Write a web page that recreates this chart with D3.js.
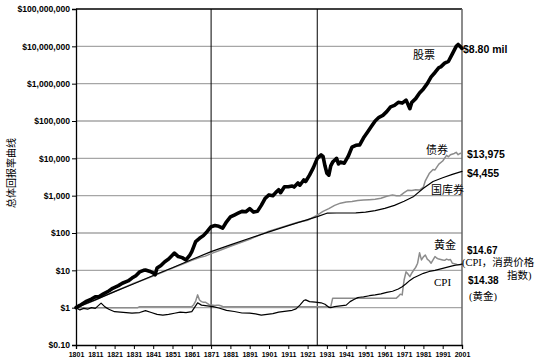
<!DOCTYPE html>
<html><head><meta charset="utf-8">
<script src="https://cdn.jsdelivr.net/npm/d3@7"></script>
<style>body{margin:0;background:#fff}svg{display:block}</style>
</head><body>
<svg id="c" width="541" height="364"></svg>
<script>
// ---- data ----
const yTickValues = [1e8, 1e7, 1e6, 1e5, 1e4, 1e3, 100, 10, 1, 0.1];
const yTickLabels = ["$100,000,000","$10,000,000","$1,000,000","$100,000","$10,000","$1,000","$100","$10","$1","$0.10"];
const xTickYears = [1801,1811,1821,1831,1841,1851,1861,1871,1881,1891,1901,1911,1921,1931,1941,1951,1961,1971,1981,1991,2001];
const markerYears = [1871, 1926];

const stockYears = [1801,1803,1806,1809,1811,1813,1815,1818,1820,1823,1825,1828,1830,1832,1834,1836,1837,1839,1841,1842,1843,1845,1847,1849,1852,1854,1856,1858,1860,1861,1863,1865,1867,1869,1871,1873,1875,1877,1879,1881,1883,1885,1887,1889,1891,1893,1895,1897,1899,1901,1903,1905,1906,1907,1909,1911,1913,1914,1916,1917,1919,1920,1922,1924,1926,1928,1929,1930,1931,1932,1933,1934,1935,1936,1937,1938,1940,1942,1944,1946,1948,1950,1952,1954,1956,1958,1960,1962,1964,1966,1968,1970,1972,1973,1974,1975,1977,1979,1981,1983,1985,1987,1989,1990,1992,1994,1996,1998,1999,2000,2001];
const stockValues = [1,1.15,1.45,1.7,1.95,2.0,2.3,2.8,3.3,3.9,4.5,5.2,6.2,7.2,9.1,10,10.2,9.5,8.5,7.6,11.5,13.5,17,20,29,23.4,21.9,19,25.7,31.6,59,72,85,110,148,158,151,135,200,269,302,339,380,372,447,363,380,550,851,1047,1000,1288,1445,1202,1738,1738,1820,1700,2188,1905,2630,2400,3548,5623,10000,12300,11220,6310,3981,3548,6310,7943,8913,10000,7079,7943,7413,11220,19950,22390,22900,35480,50100,70800,100000,125900,141300,177800,239900,263000,316000,302000,363000,282000,214000,316000,398000,562000,724000,1000000,1514000,1995000,2692000,2818000,3548000,3981000,6310000,10000000,11220000,10000000,8800000];

const bondYears = [1801,1806,1811,1816,1821,1826,1831,1836,1841,1846,1851,1856,1861,1865,1868,1871,1876,1881,1886,1891,1896,1901,1906,1911,1916,1921,1926,1929,1932,1935,1938,1941,1944,1947,1950,1953,1956,1959,1962,1965,1967,1969,1971,1973,1975,1977,1979,1981,1982,1984,1986,1987,1989,1991,1993,1994,1995,1997,1998,1999,2000,2001];
const bondValues = [1,1.25,1.6,2.1,2.7,3.5,4.5,5.6,7.0,9.0,11.5,14.5,18.6,22,24,28,35,44,55,68,88,112,135,162,195,220,300,380,450,550,630,680,700,740,760,780,800,850,960,1050,1000,1000,1200,1400,1380,1450,1420,1700,2500,3900,5000,4900,7000,8500,12000,11000,12500,13500,14500,12500,13500,13975];

const billYears = [1801,1811,1821,1831,1841,1851,1861,1871,1881,1891,1901,1911,1921,1926,1931,1936,1941,1946,1951,1956,1961,1966,1971,1976,1981,1986,1991,1996,2001];
const billValues = [1,1.62,2.69,4.37,7.24,11.7,19.5,31.6,47.9,72.4,107,158,229,275,339,343,343,347,363,398,457,550,708,955,1585,2399,3020,3715,4455];

const goldYears = [1801,1833,1834,1861,1862,1863,1864,1865,1866,1867,1868,1869,1870,1871,1872,1873,1874,1875,1876,1877,1878,1933,1934,1967,1968,1969,1970,1971,1972,1973,1974,1975,1976,1977,1978,1979,1980,1981,1982,1983,1984,1985,1986,1987,1988,1989,1990,1991,1992,1993,1994,1995,1996,1997,1998,1999,2000,2001];
const goldValues = [1,1,1.066,1.066,1.2,1.5,2.2,1.6,1.45,1.4,1.4,1.3,1.2,1.18,1.16,1.14,1.16,1.16,1.12,1.08,1.066,1.066,1.8,1.8,2.0,2.3,2.2,5.5,9.1,8.0,6.8,8.5,10.2,12,15.5,29.5,19,23,25.7,20,18,15.5,19,23.4,21,20,19.5,19,18.5,20,19,19.5,15.5,15,14.5,13.8,14,14.38];

const cpiYears = [1801,1803,1805,1807,1809,1811,1814,1816,1818,1821,1824,1827,1830,1834,1837,1840,1843,1846,1849,1852,1855,1858,1861,1864,1866,1869,1872,1875,1879,1883,1887,1891,1894,1897,1900,1903,1906,1910,1913,1915,1917,1919,1920,1922,1925,1928,1930,1932,1933,1935,1938,1941,1943,1945,1947,1948,1950,1953,1956,1959,1962,1965,1968,1970,1972,1974,1976,1978,1981,1984,1987,1990,1993,1996,1999,2001];
const cpiValues = [1,0.87,0.955,0.91,1.0,0.955,1.32,1.05,0.91,0.78,0.76,0.74,0.71,0.74,0.83,0.74,0.66,0.63,0.66,0.71,0.76,0.74,0.78,1.35,1.17,1.12,1.07,0.98,0.85,0.79,0.72,0.71,0.68,0.63,0.66,0.69,0.76,0.81,0.85,0.93,1.17,1.55,1.62,1.45,1.41,1.35,1.23,1.02,1.0,1.07,1.12,1.17,1.45,1.66,1.86,1.9,1.95,2.09,2.19,2.34,2.57,2.75,3.16,3.63,4.37,5.37,6.31,7.08,8.32,9.33,10,10.96,12.0,13.2,14.1,14.67];

// ---- chart ----
const svg = d3.select("#c");
const L = 76, R = 462, T = 9, B = 345;
const x = d3.scaleLinear().domain([1801, 2001]).range([L, R]);
const y = d3.scaleLog().domain([0.1, 1e8]).range([B, T]);

const zip = (ys, vs) => ys.map((yr, i) => [yr, vs[i]]);
const line = d3.line().x(d => x(d[0])).y(d => y(d[1]));

// gridlines
svg.append("g").selectAll("line").data(yTickValues.filter(v => v !== 0.1 && v !== 1e8)).join("line")
  .attr("x1", L).attr("x2", R).attr("y1", d => y(d)).attr("y2", d => y(d))
  .attr("stroke", "#a6a6a6").attr("stroke-width", 1.3);

// frame: top (black) and right (dark gray)
svg.append("line").attr("x1", L).attr("x2", R).attr("y1", T).attr("y2", T).attr("stroke", "#000").attr("stroke-width", 1.3);
svg.append("line").attr("x1", R).attr("x2", R).attr("y1", T).attr("y2", B).attr("stroke", "#666").attr("stroke-width", 1.5);

// vertical marker lines
svg.append("g").selectAll("line").data(markerYears).join("line")
  .attr("x1", d => x(d)).attr("x2", d => x(d)).attr("y1", T).attr("y2", B)
  .attr("stroke", "#000").attr("stroke-width", 1);

// axes
const yAxis = d3.axisLeft(y).tickValues(yTickValues).tickFormat((d, i) => yTickLabels[i]).tickSize(4).tickPadding(2);
const gy = svg.append("g").attr("transform", `translate(${L},0)`).call(yAxis);
gy.select(".domain").attr("stroke", "#000").attr("stroke-width", 1.3);
gy.selectAll("text").attr("font-family", "Liberation Sans, Arial, sans-serif").attr("font-size", "8.6px").attr("font-weight", "bold").attr("fill", "#000");

const xAxis = d3.axisBottom(x).tickValues(xTickYears).tickFormat(d3.format("d")).tickSize(4).tickPadding(3);
const gx = svg.append("g").attr("transform", `translate(0,${B})`).call(xAxis);
gx.select(".domain").attr("stroke", "#000").attr("stroke-width", 1.3);
gx.selectAll("text").attr("font-family", "Liberation Sans, Arial, sans-serif").attr("font-size", "7px").attr("font-weight", "bold").attr("fill", "#000");

// series
const series = [
  {data: zip(goldYears, goldValues), color: "#8c8c8c", w: 1.5},
  {data: zip(bondYears, bondValues), color: "#8c8c8c", w: 1.5},
  {data: zip(billYears, billValues), color: "#000", w: 1.2},
  {data: zip(cpiYears, cpiValues), color: "#000", w: 1.2},
  {data: zip(stockYears, stockValues), color: "#000", w: 3.6}
];
svg.append("g").selectAll("path").data(series).join("path")
  .attr("d", d => line(d.data)).attr("fill", "none")
  .attr("stroke", d => d.color).attr("stroke-width", d => d.w)
  .attr("stroke-linejoin", "round").attr("stroke-linecap", "round");

// y-axis title
svg.append("text").attr("transform", "translate(15,173) rotate(-90)")
  .attr("text-anchor", "middle").attr("font-family", "Noto Sans CJK SC, sans-serif")
  .attr("font-size", "10px").attr("fill", "#000").text("总体回报率曲线");

// annotations
const cjk = "Noto Sans CJK SC, sans-serif";
const serif = "Liberation Serif, Noto Sans CJK SC, serif";
const bold = "Liberation Sans, Arial, sans-serif";
const notes = [
  {t: "股票", x: 413, y: 59, f: cjk, s: 11, w: "normal"},
  {t: "债券", x: 426, y: 154, f: cjk, s: 11, w: "normal"},
  {t: "国库券", x: 431, y: 194, f: cjk, s: 11, w: "normal"},
  {t: "黄金", x: 434, y: 249, f: cjk, s: 11, w: "normal"},
  {t: "CPI", x: 434, y: 286, f: "Liberation Serif, serif", s: 11, w: "normal"},
  {t: "$8.80 mil", x: 463, y: 53, f: bold, s: 10.5, w: "bold"},
  {t: "$13,975", x: 467, y: 158, f: bold, s: 10.5, w: "bold"},
  {t: "$4,455", x: 467, y: 177, f: bold, s: 10.5, w: "bold"},
  {t: "$14.67", x: 467, y: 254, f: bold, s: 10, w: "bold"},
  {t: "(CPI，消费价格", x: 462, y: 266, f: serif, s: 10.5, w: "normal"},
  {t: "指数)", x: 507, y: 279, f: serif, s: 10.5, w: "normal"},
  {t: "$14.38", x: 468, y: 284, f: bold, s: 10, w: "bold"},
  {t: "(黄金)", x: 469, y: 300, f: serif, s: 10.5, w: "normal"}
];
svg.append("g").selectAll("text").data(notes).join("text")
  .attr("x", d => d.x).attr("y", d => d.y).attr("font-family", d => d.f)
  .attr("font-size", d => d.s + "px").attr("font-weight", d => d.w).attr("fill", "#000")
  .text(d => d.t);
</script>
</body></html>
